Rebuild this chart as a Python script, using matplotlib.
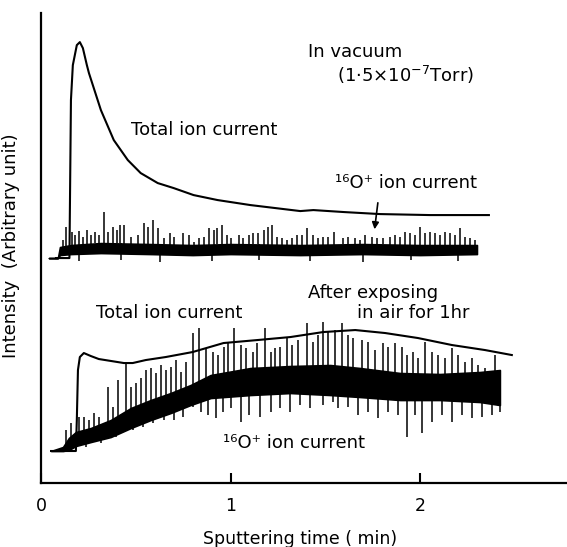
"""Depth profiles: total and 16O+ ion current vs sputtering time."""

import numpy as np
import matplotlib
matplotlib.use("Agg")
import matplotlib.pyplot as plt

# ---- in vacuum ---------------------------------------------------------
vac_total_t = [0.079, 0.150, 0.158, 0.168, 0.189, 0.205, 0.221, 0.242, 0.253,
               0.316, 0.384, 0.458, 0.526, 0.616, 0.700, 0.805, 0.932, 1.105,
               1.368, 1.437, 1.6, 1.789, 2.053, 2.363]
vac_total_i = [225, 225, 383, 418, 438, 441, 435, 418, 410,
               373, 343, 323, 310, 300, 295, 288, 283, 278,
               272, 273, 271, 269, 268, 268]

vac_band_t = [0.042, 0.089, 0.100, 0.158, 0.316, 0.579, 0.80, 1.0, 1.368, 1.7, 2.0, 2.30]
vac_band_lo = [225, 225, 228, 229, 230, 229, 228, 229, 228, 229, 228, 229]
vac_band_hi = [225, 225, 236, 238, 240, 239, 238, 239, 238, 239, 238, 238]

vac_spike_t = [0.116, 0.132, 0.163, 0.179, 0.2, 0.221, 0.242, 0.263, 0.284, 0.305,
               0.332, 0.353, 0.379, 0.4, 0.416, 0.437, 0.474, 0.511, 0.542, 0.563,
               0.589, 0.616, 0.647, 0.679, 0.7, 0.747, 0.779, 0.805, 0.832, 0.858,
               0.884, 0.911, 0.926, 0.953, 0.979, 1.0, 1.042, 1.068, 1.095, 1.121,
               1.147, 1.174, 1.195, 1.221, 1.247, 1.274, 1.3, 1.326, 1.353, 1.379,
               1.405, 1.437, 1.463, 1.489, 1.516, 1.547, 1.595, 1.621, 1.658, 1.684,
               1.711, 1.747, 1.774, 1.805, 1.842, 1.868, 1.895, 1.921, 1.947, 1.974,
               2.0, 2.026, 2.053, 2.079, 2.105, 2.132, 2.158, 2.184, 2.211, 2.237,
               2.263, 2.289]
vac_spike_i = [243, 256, 251, 248, 252, 246, 253, 248, 251, 248,
               271, 251, 256, 253, 258, 258, 246, 248, 260, 256,
               263, 255, 245, 250, 246, 250, 248, 241, 245, 246,
               255, 253, 255, 258, 248, 245, 248, 245, 248, 250,
               250, 253, 256, 258, 246, 245, 243, 245, 248, 248,
               255, 248, 245, 246, 246, 251, 245, 246, 245, 243,
               248, 246, 245, 245, 246, 248, 246, 251, 250, 248,
               256, 250, 251, 250, 248, 251, 250, 248, 255, 246,
               245, 243]

vac_dip_t = [0.2, 0.42, 0.63, 0.9, 1.15, 1.42, 1.7, 1.95, 2.2]
vac_dip_i = [222, 223, 221, 222, 223, 222, 221, 223, 222]

# ---- after exposing in air ---------------------------------------------
air_total_t = [0.053, 0.184, 0.189, 0.195, 0.205, 0.226, 0.263, 0.305, 0.437,
               0.484, 0.553, 0.658, 0.8, 0.963, 1.142, 1.316, 1.489, 1.658,
               1.816, 1.989, 2.168, 2.342, 2.484]
air_total_i = [32, 32, 63, 113, 126, 130, 127, 124, 120,
               120, 123, 126, 131, 140, 143, 146, 151, 153,
               150, 145, 138, 133, 128]

air_band_t = [0.053, 0.116, 0.147, 0.184, 0.263, 0.368, 0.474, 0.579, 0.684,
              0.789, 0.895, 1.105, 1.316, 1.526, 1.684, 1.895, 2.105, 2.316, 2.421]
air_band_lo = [32, 32, 33, 37, 41, 46, 55, 63, 70, 78, 85, 88, 90, 88, 86, 83, 83, 81, 78]
air_band_hi = [32, 36, 45, 51, 55, 63, 75, 83, 90, 98, 108, 115, 117, 118, 115, 110, 109, 111, 113]

air_spike_t = [0.132, 0.158, 0.2, 0.226, 0.253, 0.279, 0.305, 0.353, 0.379, 0.405,
               0.447, 0.474, 0.5, 0.526, 0.553, 0.579, 0.605, 0.632, 0.658, 0.684,
               0.711, 0.737, 0.763, 0.8, 0.832, 0.868, 0.905, 0.932, 0.963, 0.989,
               1.016, 1.053, 1.079, 1.116, 1.142, 1.184, 1.211, 1.237, 1.263, 1.3,
               1.326, 1.358, 1.405, 1.437, 1.463, 1.489, 1.516, 1.553, 1.589, 1.621,
               1.647, 1.695, 1.726, 1.763, 1.805, 1.832, 1.868, 1.905, 1.932, 1.963,
               1.989, 2.026, 2.063, 2.095, 2.132, 2.168, 2.2, 2.237, 2.274, 2.305,
               2.342, 2.395, 2.411]
air_spike_i = [53, 60, 66, 66, 63, 70, 66, 96, 76, 103,
               120, 96, 100, 105, 113, 115, 110, 118, 113, 116,
               123, 111, 121, 150, 155, 135, 131, 128, 136, 141,
               155, 138, 135, 131, 140, 155, 131, 135, 136, 145,
               138, 143, 160, 141, 148, 161, 151, 153, 160, 148,
               145, 143, 141, 133, 140, 136, 140, 136, 128, 131,
               125, 141, 131, 128, 125, 135, 128, 121, 125, 118,
               115, 128, 108]

air_dip_t = [0.237, 0.274, 0.316, 0.395, 0.484, 0.537, 0.589, 0.647, 0.7, 0.747,
             0.8, 0.842, 0.879, 0.921, 0.958, 1.0, 1.053, 1.095, 1.158, 1.211,
             1.263, 1.316, 1.368, 1.421, 1.489, 1.542, 1.568, 1.621, 1.674, 1.726,
             1.779, 1.832, 1.884, 1.932, 1.974, 2.011, 2.063, 2.116, 2.168, 2.221,
             2.274, 2.326, 2.379, 2.421]
air_dip_i = [36, 43, 40, 46, 53, 56, 60, 63, 63, 66,
             76, 71, 68, 65, 71, 75, 61, 68, 66, 71,
             75, 71, 78, 75, 78, 81, 75, 76, 68, 71,
             65, 71, 68, 46, 68, 50, 61, 68, 61, 68,
             65, 66, 68, 71]

x_ticks = [0, 1, 2]


def draw_noisy(ax, band_t, lo, hi, spike_t, spike_i, dip_t, dip_i, base_t, base_i):
    ax.fill_between(band_t, lo, hi, color="k", linewidth=1.2, edgecolor="k")
    up0 = np.interp(spike_t, base_t, base_i)
    dn0 = np.interp(dip_t, base_t, base_i)
    ax.vlines(spike_t, up0, spike_i, color="k", linewidth=1.1)
    ax.vlines(dip_t, dip_i, dn0, color="k", linewidth=1.1)


fig = plt.figure(figsize=(5.67, 5.47), dpi=100)
ax = fig.add_axes([0.0723, 0.117, 0.926, 0.859])

ax.plot(vac_total_t, vac_total_i, color="k", linewidth=1.5)
draw_noisy(ax, vac_band_t, vac_band_lo, vac_band_hi, vac_spike_t, vac_spike_i,
           vac_dip_t, vac_dip_i, vac_band_t, vac_band_hi)

ax.plot(air_total_t, air_total_i, color="k", linewidth=1.5)
air_mid = [(a + b) / 2 for a, b in zip(air_band_lo, air_band_hi)]
draw_noisy(ax, air_band_t, air_band_lo, air_band_hi, air_spike_t, air_spike_i,
           air_dip_t, air_dip_i, air_band_t, air_mid)

fs = 13
ax.text(0.474, 353, "Total ion current", fontsize=fs, va="center")
ax.text(1.411, 431, "In vacuum", fontsize=fs, va="center")
ax.text(1.563, 408, "(1·5×10$^{-7}$Torr)", fontsize=fs, va="center")
ax.text(1.553, 300, "¹⁶O⁺ ion current", fontsize=fs, va="center")
ax.annotate("", xy=(1.758, 251), xytext=(1.779, 283),
            arrowprops=dict(arrowstyle="-|>", color="k", lw=1.2, mutation_scale=10))
ax.text(0.289, 170, "Total ion current", fontsize=fs, va="center")
ax.text(1.411, 190, "After exposing", fontsize=fs, va="center")
ax.text(1.668, 170, "in air for 1hr", fontsize=fs, va="center")
ax.text(0.958, 40, "¹⁶O⁺ ion current", fontsize=fs, va="center")

ax.set_xlim(0, 2.77)
ax.set_ylim(0, 470)
ax.set_xticks(x_ticks)
ax.set_xticklabels([str(v) for v in x_ticks], fontsize=12.5)
ax.set_yticks([])
ax.tick_params(axis="x", direction="in", length=7, width=1.5, pad=10)
for side in ("top", "right"):
    ax.spines[side].set_visible(False)
for side in ("left", "bottom"):
    ax.spines[side].set_linewidth(1.6)

ax.set_xlabel("Sputtering time ( min)", fontsize=12.5)
ax.xaxis.set_label_coords(0.493, -0.1)
ax.set_ylabel("Intensity  (Arbitrary unit)", fontsize=13)
ax.yaxis.set_label_coords(-0.04, 0.506)

fig.savefig("out.png", dpi=100)
